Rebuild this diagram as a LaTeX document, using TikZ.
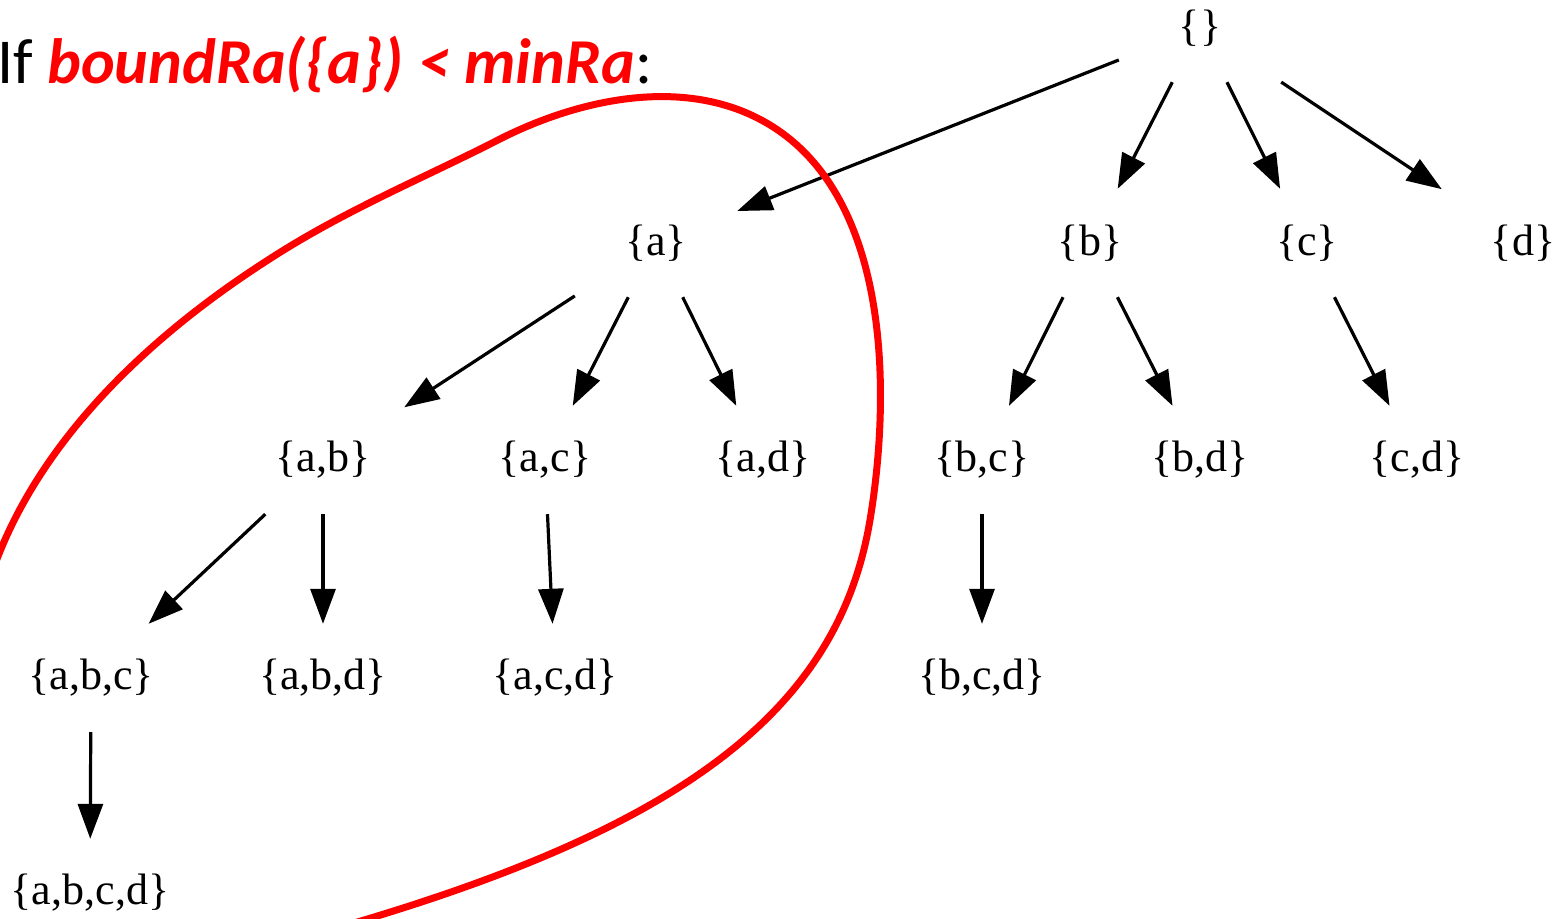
\documentclass[tikz,border=0pt]{standalone}
\usepackage{xcolor}
\usepackage{fontspec}
\setmainfont{Liberation Serif}
\newfontfamily\condfont{Carlito}
\usepackage{tikz}
\usetikzlibrary{arrows.meta}
\definecolor{edgec}{HTML}{000000}
\definecolor{hullc}{HTML}{FF0000}
\tikzset{
  ar/.style={-{Triangle[length=35pt,width=25pt]},line width=3.2pt,edgec},
  sn/.style={rectangle,minimum width=162pt,minimum height=108pt,inner sep=0pt,font=\fontsize{44}{50}\selectfont},
  hull/.style={hullc,line width=7pt,line cap=round}
}

\begin{document}
\begin{tikzpicture}[x=1pt,y=-1pt]
\useasboundingbox (0,0) rectangle (1554,918);
\clip (0,0) rectangle (1554,918);
% condition
\node[anchor=base west,inner sep=0pt,font=\condfont\fontsize{64}{72}\selectfont] (cond) at (-3,83)
  {If \textcolor{hullc}{\bfseries\itshape boundRa(\{a\}) < minRa}:};
% set lattice, one rank per row
\node[sn] (e) at (1200,28) {\{\}};
\node[sn] (a) at (656,243) {\{a\}};
\node[sn] (b) at (1090,243) {\{b\}};
\node[sn] (c) at (1307,243) {\{c\}};
\node[sn] (d) at (1523,243) {\{d\}};
\node[sn] (ab) at (323,460) {\{a,b\}};
\node[sn] (ac) at (545,460) {\{a,c\}};
\node[sn] (ad) at (763,460) {\{a,d\}};
\node[sn] (bc) at (982,460) {\{b,c\}};
\node[sn] (bd) at (1200,460) {\{b,d\}};
\node[sn] (cd) at (1417,460) {\{c,d\}};
\node[sn] (abc) at (91,678) {\{a,b,c\}};
\node[sn] (abd) at (323,678) {\{a,b,d\}};
\node[sn] (acd) at (555,678) {\{a,c,d\}};
\node[sn] (bcd) at (982,678) {\{b,c,d\}};
\node[sn] (abcd) at (90,893) {\{a,b,c,d\}};
\foreach \s/\t in {e/a,e/b,e/c,e/d,a/ab,a/ac,a/ad,b/bc,b/bd,c/cd,ab/abc,ab/abd,ac/acd,bc/bcd,abc/abcd}
  \draw[ar] (\s) -- (\t);
% pruned branch
\draw[hull] (330,930) .. controls (680,830) and (838,712) .. (870,520)
  .. controls (890,400) and (893,200) .. (770,125)
  .. controls (688,75) and (580,98) .. (498,140)
  .. controls (424,178) and (345,210) .. (268,260)
  .. controls (120,355) and (20,470) .. (-15,595);
\end{tikzpicture}
\end{document}
